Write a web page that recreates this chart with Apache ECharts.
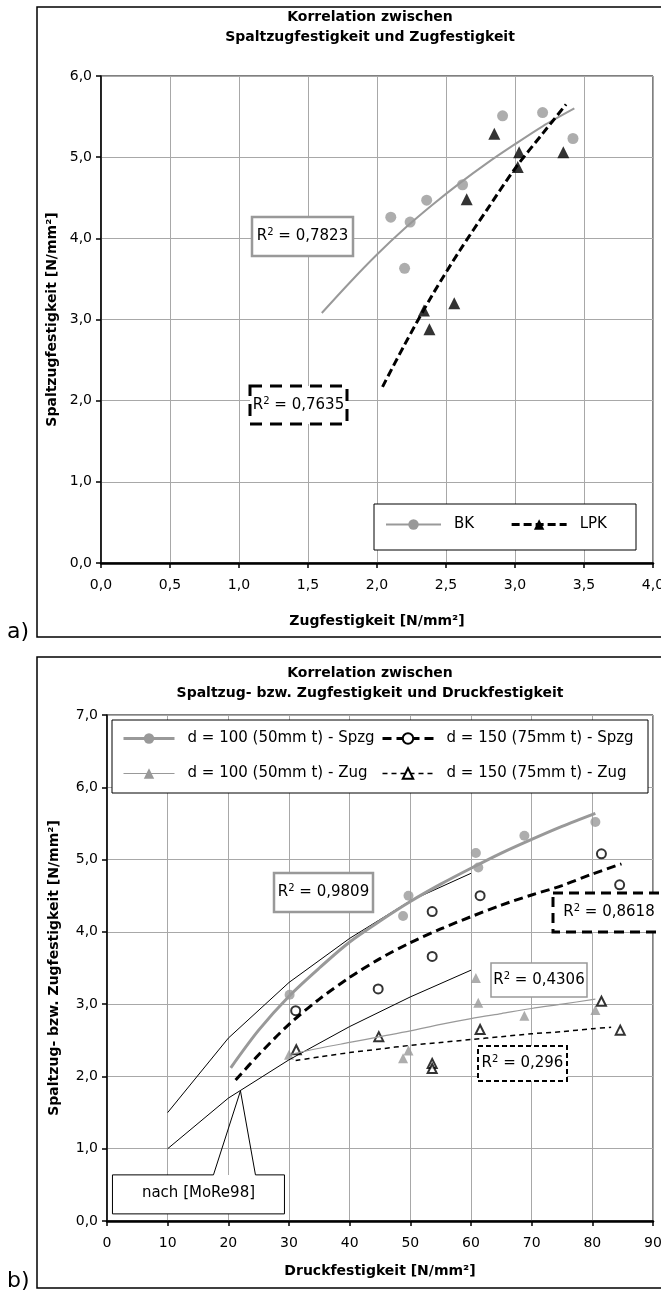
<!DOCTYPE html>
<html>
<head>
<meta charset="utf-8">
<script src="https://cdn.jsdelivr.net/npm/echarts/dist/echarts.min.js"></script>
<style>
html, body { margin: 0; padding: 0; background: #fff; }
#container { width: 661px; height: 1292px; }
</style>
</head>
<body>
<div id="container"></div>
<script>
/* a) Spaltzugfestigkeit ueber Zugfestigkeit */
var bkZug    = [2.10, 2.20, 2.24, 2.36, 2.62, 2.91, 3.20, 3.42];
var bkSpz    = [4.26, 3.63, 4.20, 4.47, 4.66, 5.51, 5.55, 5.23];
var lpkZug   = [2.34, 2.38, 2.56, 2.65, 2.85, 3.02, 3.03, 3.35];
var lpkSpz   = [3.11, 2.88, 3.20, 4.48, 5.29, 4.88, 5.06, 5.06];
var bkTrendX  = [1.6, 1.8, 2.0, 2.2, 2.4, 2.6, 2.8, 3.0, 3.2, 3.43];
var bkTrendY  = [3.08, 3.45, 3.80, 4.12, 4.41, 4.68, 4.93, 5.16, 5.38, 5.60];
var lpkTrendX = [2.04, 2.2, 2.4, 2.6, 2.8, 3.0, 3.2, 3.37];
var lpkTrendY = [2.17, 2.69, 3.30, 3.85, 4.36, 4.86, 5.29, 5.65];

/* b) Spaltzug- bzw. Zugfestigkeit ueber Druckfestigkeit */
var spz100Druck = [30.1, 48.8, 49.7, 60.8, 61.2, 68.8, 80.5];
var spz100      = [3.13, 4.22, 4.50, 5.09, 4.89, 5.33, 5.52];
var spz150Druck = [31.1, 44.7, 53.6, 53.6, 61.5, 81.5, 84.5];
var spz150      = [2.91, 3.21, 4.28, 3.66, 4.50, 5.08, 4.65];
var zug100Druck = [30.0, 48.8, 49.7, 60.8, 61.2, 68.8, 80.5];
var zug100      = [2.30, 2.25, 2.36, 3.36, 3.02, 2.84, 2.92];
var zug150Druck = [31.2, 44.8, 53.6, 53.6, 61.5, 81.5, 84.6];
var zug150      = [2.37, 2.55, 2.18, 2.11, 2.65, 3.04, 2.64];

var spz100TrendX = [20.4, 25, 30, 35, 40, 45, 50, 55, 60, 65, 70, 75, 80.5];
var spz100TrendY = [2.12, 2.64, 3.11, 3.50, 3.86, 4.15, 4.42, 4.66, 4.88, 5.09, 5.28, 5.46, 5.64];
var spz150TrendX = [21.2, 25, 30, 35, 40, 45, 50, 55, 60, 65, 70, 75, 80, 84.8];
var spz150TrendY = [1.95, 2.30, 2.72, 3.07, 3.37, 3.63, 3.85, 4.04, 4.21, 4.37, 4.51, 4.64, 4.80, 4.94];
var zug100TrendX = [30, 35, 40, 45, 50, 55, 60, 65, 70, 75, 80.5];
var zug100TrendY = [2.30, 2.39, 2.47, 2.55, 2.63, 2.72, 2.80, 2.87, 2.94, 3.00, 3.07];
var zug150TrendX = [31.1, 35, 40, 45, 50, 55, 60, 65, 70, 75, 80, 83.1];
var zug150TrendY = [2.22, 2.27, 2.33, 2.38, 2.43, 2.47, 2.51, 2.55, 2.59, 2.62, 2.66, 2.68];
var moreDruck = [10, 20, 30, 40, 50, 60];
var moreOben  = [1.50, 2.53, 3.30, 3.91, 4.43, 4.81];
var moreUnten = [1.00, 1.70, 2.23, 2.69, 3.10, 3.47];

var r2Werte = ['0,7823', '0,7635', '0,9809', '0,8618', '0,4306', '0,296'];

var FONT = '"DejaVu Sans", Verdana, sans-serif';
var GREY = '#999999';

function zip(xs, ys) {
    return xs.map(function (x, i) { return [x, ys[i]]; });
}
function komma1(v) { return v.toFixed(1).replace('.', ','); }

var dom = document.getElementById('container');
var myChart = echarts.init(dom);

function valueAxis(grid, min, max, interval, fmt, name, gap, isY) {
    return {
        type: 'value', gridIndex: grid, min: min, max: max, interval: interval,
        name: name, nameLocation: 'middle', nameGap: gap, nameMoveOverlap: false,
        nameTextStyle: { fontFamily: FONT, fontSize: 14, fontWeight: 'bold', color: '#000' },
        axisLine: { show: true, onZero: false, lineStyle: { color: '#000', width: isY ? 1.5 : 2.5 } },
        axisTick: { show: true, inside: false, length: 5, lineStyle: { color: '#000', width: 1.5 } },
        axisLabel: {
            fontFamily: FONT, fontSize: 14, color: '#000',
            margin: isY ? 9 : 15, showMinLabel: true, showMaxLabel: true,
            formatter: fmt
        },
        splitLine: { show: true, lineStyle: { color: '#a8a8a8', width: 1 } }
    };
}

function legendBlock(names, left, top, orient, itemWidth, gap) {
    return {
        data: names, orient: orient, left: left, top: top, padding: 0,
        itemWidth: itemWidth, itemHeight: 13, itemGap: gap, selectedMode: false,
        lineStyle: { width: 'inherit' },
        textStyle: { fontFamily: FONT, fontSize: 15, color: '#000', padding: [0, 0, 0, 8] }
    };
}

option = {
    animation: false,
    backgroundColor: '#fff',
    title: [
        {
            text: 'Korrelation zwischen\nSpaltzugfestigkeit und Zugfestigkeit',
            left: 370, top: 7, textAlign: 'center', padding: 0,
            textStyle: { fontFamily: FONT, fontSize: 14, fontWeight: 'bold', color: '#000', lineHeight: 20 }
        },
        {
            text: 'Korrelation zwischen\nSpaltzug- bzw. Zugfestigkeit und Druckfestigkeit',
            left: 370, top: 663, textAlign: 'center', padding: 0,
            textStyle: { fontFamily: FONT, fontSize: 14, fontWeight: 'bold', color: '#000', lineHeight: 20 }
        }
    ],
    grid: [
        { left: 101, right: 8, top: 76, bottom: 1292 - 563, show: true, borderColor: '#000', borderWidth: 1, outerBoundsMode: 'none' },
        { left: 107, right: 8, top: 715, bottom: 1292 - 1221, show: true, borderColor: '#000', borderWidth: 1, outerBoundsMode: 'none' }
    ],
    xAxis: [
        valueAxis(0, 0, 4, 0.5, komma1, 'Zugfestigkeit [N/mm²]', 51, false),
        valueAxis(1, 0, 90, 10, function (v) { return String(v); }, 'Druckfestigkeit [N/mm²]', 43, false)
    ],
    yAxis: [
        valueAxis(0, 0, 6, 1, komma1, 'Spaltzugfestigkeit [N/mm²]', 42, true),
        valueAxis(1, 0, 7, 1, komma1, 'Spaltzug- bzw. Zugfestigkeit [N/mm²]', 46, true)
    ],
    legend: [
        legendBlock(['BK', 'LPK'], 385, 517, 'horizontal', 55, 36),
        legendBlock(['d = 100 (50mm t) - Spzg', 'd = 100 (50mm t) - Zug'], 122, 731, 'vertical', 51, 20),
        legendBlock(['d = 150 (75mm t) - Spzg', 'd = 150 (75mm t) - Zug'], 381, 731, 'vertical', 51, 20)
    ],
    series: [
        // a) Trendlinien
        {
            name: 'BK', type: 'line', xAxisIndex: 0, yAxisIndex: 0, smooth: 0.3,
            data: zip(bkTrendX, bkTrendY), symbol: 'circle', showSymbol: false,
            color: GREY, lineStyle: { color: GREY, width: 2 }
        },
        {
            name: 'LPK', type: 'line', xAxisIndex: 0, yAxisIndex: 0, smooth: 0.3,
            data: zip(lpkTrendX, lpkTrendY), symbol: 'triangle', showSymbol: false,
            color: '#000', lineStyle: { color: '#000', width: 3, type: [8, 4] }
        },
        // a) Messwerte
        {
            name: 'BK Werte', type: 'scatter', xAxisIndex: 0, yAxisIndex: 0,
            data: zip(bkZug, bkSpz), symbol: 'circle', symbolSize: 11,
            itemStyle: { color: GREY }
        },
        {
            name: 'LPK Werte', type: 'scatter', xAxisIndex: 0, yAxisIndex: 0,
            data: zip(lpkZug, lpkSpz), symbol: 'triangle', symbolSize: 12,
            itemStyle: { color: '#000' }
        },
        // b) Kurven nach [MoRe98]
        {
            name: 'MoRe98 oben', type: 'line', xAxisIndex: 1, yAxisIndex: 1,
            data: zip(moreDruck, moreOben), showSymbol: false,
            lineStyle: { color: '#000', width: 1 }
        },
        {
            name: 'MoRe98 unten', type: 'line', xAxisIndex: 1, yAxisIndex: 1,
            data: zip(moreDruck, moreUnten), showSymbol: false,
            lineStyle: { color: '#000', width: 1 }
        },
        // b) Trendlinien
        {
            name: 'd = 100 (50mm t) - Spzg', type: 'line', xAxisIndex: 1, yAxisIndex: 1, smooth: 0.3,
            data: zip(spz100TrendX, spz100TrendY), symbol: 'circle', showSymbol: false,
            color: GREY, lineStyle: { color: GREY, width: 3 }
        },
        {
            name: 'd = 150 (75mm t) - Spzg', type: 'line', xAxisIndex: 1, yAxisIndex: 1, smooth: 0.3,
            data: zip(spz150TrendX, spz150TrendY), symbol: 'emptyCircle', showSymbol: false,
            color: '#000', lineStyle: { color: '#000', width: 3, type: [9, 5] }
        },
        {
            name: 'd = 100 (50mm t) - Zug', type: 'line', xAxisIndex: 1, yAxisIndex: 1, smooth: 0.3,
            data: zip(zug100TrendX, zug100TrendY), symbol: 'triangle', showSymbol: false,
            color: GREY, lineStyle: { color: GREY, width: 1.2 }
        },
        {
            name: 'd = 150 (75mm t) - Zug', type: 'line', xAxisIndex: 1, yAxisIndex: 1, smooth: 0.3,
            data: zip(zug150TrendX, zug150TrendY), symbol: 'emptyTriangle', showSymbol: false,
            color: '#000', lineStyle: { color: '#000', width: 1.5, type: [5, 4] }
        },
        // b) Messwerte
        {
            name: 'Spzg 100 Werte', type: 'scatter', xAxisIndex: 1, yAxisIndex: 1,
            data: zip(spz100Druck, spz100), symbol: 'circle', symbolSize: 10,
            itemStyle: { color: GREY }
        },
        {
            name: 'Spzg 150 Werte', type: 'scatter', xAxisIndex: 1, yAxisIndex: 1,
            data: zip(spz150Druck, spz150), symbol: 'emptyCircle', symbolSize: 9,
            itemStyle: { color: '#000', borderColor: '#000', borderWidth: 1.2 }
        },
        {
            name: 'Zug 100 Werte', type: 'scatter', xAxisIndex: 1, yAxisIndex: 1,
            data: zip(zug100Druck, zug100), symbol: 'triangle', symbolSize: 10,
            itemStyle: { color: GREY }
        },
        {
            name: 'Zug 150 Werte', type: 'scatter', xAxisIndex: 1, yAxisIndex: 1,
            data: zip(zug150Druck, zug150), symbol: 'emptyTriangle', symbolSize: 9,
            itemStyle: { color: '#000', borderColor: '#000', borderWidth: 1.2 }
        }
    ]
};
if (option && typeof option === "object") {
    myChart.setOption(option, true);
}

// Beschriftungen, Rahmen, R²-Kaesten
function r2Box(x, y, w, h, wert, stroke, lw, dash) {
    return {
        type: 'group', z: 20,
        children: [
            { type: 'rect', shape: { x: x, y: y, width: w, height: h },
              style: { fill: '#fff', stroke: stroke, lineWidth: lw, lineDash: dash || null } },
            { type: 'text', x: x + w / 2, y: y + h / 2,
              style: {
                  text: '{r|R}{s|2}{r| = ' + wert + '}',
                  align: 'center', verticalAlign: 'middle',
                  rich: {
                      r: { fontFamily: FONT, fontSize: 15, color: '#000', lineHeight: 18 },
                      s: { fontFamily: FONT, fontSize: 10, color: '#000', lineHeight: 10, verticalAlign: 'top' }
                  }
              } }
        ]
    };
}

var ap = myChart.convertToPixel({ gridIndex: 1 }, [22, 1.8]);

myChart.setOption({
    graphic: [
        { type: 'rect', z: 0, shape: { x: 37, y: 7, width: 640, height: 630 },
          style: { fill: null, stroke: '#000', lineWidth: 1.5 } },
        { type: 'rect', z: 0, shape: { x: 37, y: 657, width: 640, height: 631 },
          style: { fill: null, stroke: '#000', lineWidth: 1.5 } },
        { type: 'text', x: 7, y: 621, style: { text: 'a)', fontFamily: FONT, fontSize: 22, fill: '#000' } },
        { type: 'text', x: 7, y: 1270, style: { text: 'b)', fontFamily: FONT, fontSize: 22, fill: '#000' } },
        // Legendenrahmen
        { type: 'rect', z: 1, shape: { x: 374, y: 504, width: 262, height: 46 },
          style: { fill: '#fff', stroke: '#000', lineWidth: 1 } },
        { type: 'rect', z: 1, shape: { x: 112, y: 720, width: 536, height: 73 },
          style: { fill: '#fff', stroke: '#000', lineWidth: 1 } },
        r2Box(252, 217, 101, 39, r2Werte[0], GREY, 2.5),
        r2Box(250, 386, 97, 38, r2Werte[1], '#000', 3, [12, 8]),
        r2Box(274, 873, 99, 39, r2Werte[2], GREY, 2.5),
        r2Box(553, 893, 112, 39, r2Werte[3], '#000', 3, [10, 6]),
        r2Box(491, 963, 96, 34, r2Werte[4], GREY, 1.5),
        r2Box(478, 1046, 89, 35, r2Werte[5], '#000', 2, [5, 3]),
        // Hinweis nach [MoRe98]
        { type: 'group', z: 20, children: [
            { type: 'rect', shape: { x: ap[0] - 128, y: ap[1] + 84, width: 172, height: 39 },
              style: { fill: '#fff', stroke: null } },
            { type: 'polyline',
              shape: { points: [
                  [ap[0] - 27, ap[1] + 84], [ap[0] - 128, ap[1] + 84], [ap[0] - 128, ap[1] + 123],
                  [ap[0] + 44, ap[1] + 123], [ap[0] + 44, ap[1] + 84], [ap[0] + 15, ap[1] + 84],
                  [ap[0], ap[1]], [ap[0] - 27, ap[1] + 84]
              ] },
              style: { fill: null, stroke: '#000', lineWidth: 1 } },
            { type: 'text', x: ap[0] - 42, y: ap[1] + 102,
              style: { text: 'nach [MoRe98]', fontFamily: FONT, fontSize: 15, fill: '#000',
                       align: 'center', verticalAlign: 'middle' } }
        ] }
    ]
});
</script>
</body>
</html>
